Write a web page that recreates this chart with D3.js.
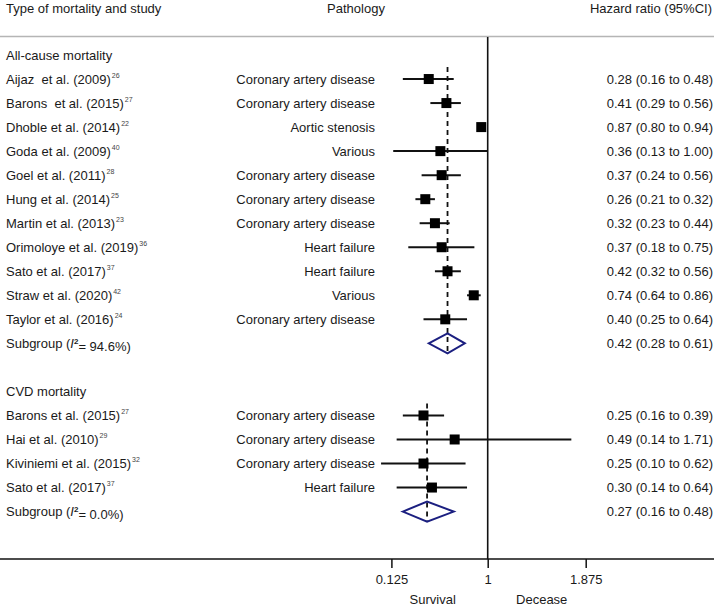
<!DOCTYPE html>
<html>
<head>
<meta charset="utf-8">
<script src="https://cdn.jsdelivr.net/npm/d3@7"></script>
<style>
  html, body { margin: 0; padding: 0; background: #fff; }
  svg { display: block; font-family: "Liberation Sans", Arial, Helvetica, sans-serif; }
  text { fill: #1a1a1a; font-size: 13px; }
</style>
</head>
<body>
<svg id="chart" width="714" height="607"></svg>
<script>
// ---------------- data ----------------
const columnHeaders = ["Type of mortality and study", "Pathology", "Hazard ratio (95%CI)"];
const groupTitles = ["All-cause mortality", "CVD mortality"];

const allStudies = ["Aijaz  et al. (2009)", "Barons  et al. (2015)", "Dhoble et al. (2014)", "Goda et al. (2009)",
  "Goel et al. (2011)", "Hung et al. (2014)", "Martin et al. (2013)", "Orimoloye et al. (2019)",
  "Sato et al. (2017)", "Straw et al. (2020)", "Taylor et al. (2016)"];
const allRefs = ["26", "27", "22", "40", "28", "25", "23", "36", "37", "42", "24"];
const allPathology = ["Coronary artery disease", "Coronary artery disease", "Aortic stenosis", "Various",
  "Coronary artery disease", "Coronary artery disease", "Coronary artery disease", "Heart failure",
  "Heart failure", "Various", "Coronary artery disease"];
const allHR = [0.28, 0.41, 0.87, 0.36, 0.37, 0.26, 0.32, 0.37, 0.42, 0.74, 0.40];
const allLower = [0.16, 0.29, 0.80, 0.13, 0.24, 0.21, 0.23, 0.18, 0.32, 0.64, 0.25];
const allUpper = [0.48, 0.56, 0.94, 1.00, 0.56, 0.32, 0.44, 0.75, 0.56, 0.86, 0.64];

const cvdStudies = ["Barons et al. (2015)", "Hai et al. (2010)", "Kiviniemi et al. (2015)", "Sato et al. (2017)"];
const cvdRefs = ["27", "29", "32", "37"];
const cvdPathology = ["Coronary artery disease", "Coronary artery disease", "Coronary artery disease", "Heart failure"];
const cvdHR = [0.25, 0.49, 0.25, 0.30];
const cvdLower = [0.16, 0.14, 0.10, 0.14];
const cvdUpper = [0.39, 1.71, 0.62, 0.64];

const subgroupI2 = ["94.6%", "0.0%"];
const subgroupHR = [0.42, 0.27];
const subgroupLower = [0.28, 0.16];
const subgroupUpper = [0.61, 0.48];

const tickValues = [0.125, 1, 1.875];
const tickLabels = ["0.125", "1", "1.875"];
const directionLabels = ["Survival", "Decease"];

// ---------------- layout ----------------
const W = 714, H = 607;
const svg = d3.select("#chart");
svg.append("rect").attr("width", W).attr("height", H).attr("fill", "#fff");

const x = d3.scaleLog().domain([0.125, 1, 1.875]).range([391.4, 487.7, 585.7]);
const y = d3.scaleLinear().domain([0, 20]).range([55, 535.6]);
const axisY = 559;
const fmt = d3.format(".2f");

// build rows
const groups = [
  { title: groupTitles[0], names: allStudies, refs: allRefs, path: allPathology, hr: allHR, lo: allLower, hi: allUpper, g: 0 },
  { title: groupTitles[1], names: cvdStudies, refs: cvdRefs, path: cvdPathology, hr: cvdHR, lo: cvdLower, hi: cvdUpper, g: 1 }
];
const rows = [];
let r = 0;
groups.forEach(gr => {
  rows.push({ type: "title", text: gr.title, row: r++ });
  const first = r;
  gr.names.forEach((n, i) => rows.push({ type: "study", name: n, ref: gr.refs[i], path: gr.path[i], hr: gr.hr[i], lo: gr.lo[i], hi: gr.hi[i], row: r++ }));
  rows.push({ type: "sub", i2: subgroupI2[gr.g], hr: subgroupHR[gr.g], lo: subgroupLower[gr.g], hi: subgroupUpper[gr.g], row: r++, firstRow: first });
  r += 1; // blank row
});

// headers
const headerY = 8;
svg.append("text").attr("x", 6).attr("y", headerY).attr("dy", "0.35em").text(columnHeaders[0]);
svg.append("text").attr("x", 356).attr("y", headerY).attr("dy", "0.35em").attr("text-anchor", "middle").text(columnHeaders[1]);
svg.append("text").attr("x", 712).attr("y", headerY).attr("dy", "0.35em").attr("text-anchor", "end").text(columnHeaders[2]);

// rule below header
svg.append("line").attr("x1", 0).attr("x2", W).attr("y1", 36.5).attr("y2", 36.5)
  .attr("stroke", "#b5b5b5").attr("stroke-width", 1.5);

// dashed overall lines
rows.filter(d => d.type === "sub").forEach(d => {
  svg.append("line")
    .attr("x1", x(d.hr)).attr("x2", x(d.hr))
    .attr("y1", y(d.firstRow) - 12).attr("y2", y(d.row) + 10)
    .attr("stroke", "#111").attr("stroke-width", 1.8).attr("stroke-dasharray", "5,4");
});

// null line
svg.append("line").attr("x1", x(1)).attr("x2", x(1)).attr("y1", 37).attr("y2", axisY)
  .attr("stroke", "#111").attr("stroke-width", 1.6);

// text rows
rows.forEach(d => {
  const yy = y(d.row);
  if (d.type === "title") {
    svg.append("text").attr("x", 6).attr("y", yy).attr("dy", "0.35em").text(d.text);
  } else if (d.type === "study") {
    const t = svg.append("text").attr("x", 6).attr("y", yy).attr("dy", "0.35em").attr("xml:space", "preserve");
    t.append("tspan").text(d.name);
    t.append("tspan").attr("dx", 1).attr("dy", "-0.85em").style("font-size", "7px").style("fill", "#444").text(d.ref);
    svg.append("text").attr("x", 375).attr("y", yy).attr("dy", "0.35em").attr("text-anchor", "end").text(d.path);
    svg.append("text").attr("x", 713).attr("y", yy).attr("dy", "0.35em").attr("text-anchor", "end")
      .text(`${fmt(d.hr)} (${fmt(d.lo)} to ${fmt(d.hi)})`);
  } else {
    const t = svg.append("text").attr("x", 6).attr("y", yy).attr("dy", "0.35em");
    t.append("tspan").text("Subgroup (");
    t.append("tspan").style("font-style", "italic").text("I");
    t.append("tspan").attr("dy", "-0.55em").style("font-size", "8px").style("font-weight", "bold").text("2");
    t.append("tspan").attr("dy", "0.55em").text(`= ${d.i2})`);
    svg.append("text").attr("x", 713).attr("y", yy).attr("dy", "0.35em").attr("text-anchor", "end")
      .text(`${fmt(d.hr)} (${fmt(d.lo)} to ${fmt(d.hi)})`);
  }
});

// CIs and squares
const studiesRows = rows.filter(d => d.type === "study");
svg.append("g").selectAll("line").data(studiesRows).join("line")
  .attr("x1", d => x(d.lo)).attr("x2", d => x(d.hi))
  .attr("y1", d => y(d.row)).attr("y2", d => y(d.row))
  .attr("stroke", "#111").attr("stroke-width", 2);
const sq = 10;
svg.append("g").selectAll("rect").data(studiesRows).join("rect")
  .attr("x", d => x(d.hr) - sq / 2).attr("y", d => y(d.row) - sq / 2)
  .attr("width", sq).attr("height", sq).attr("fill", "#000");

// diamonds
svg.append("g").selectAll("path").data(rows.filter(d => d.type === "sub")).join("path")
  .attr("d", d => {
    const yy = y(d.row), h = 10;
    return `M${x(d.lo)},${yy} L${x(d.hr)},${yy - h} L${x(d.hi)},${yy} L${x(d.hr)},${yy + h} Z`;
  })
  .attr("fill", "none").attr("stroke", "#1b1f80").attr("stroke-width", 2);

// axis
svg.append("line").attr("x1", 0).attr("x2", W).attr("y1", axisY).attr("y2", axisY)
  .attr("stroke", "#111").attr("stroke-width", 1.5);
const axis = d3.axisBottom(x).tickValues(tickValues).tickFormat((v, i) => tickLabels[i]).tickSize(9).tickPadding(7);
const ag = svg.append("g").attr("transform", `translate(0,${axisY})`).call(axis);
ag.select(".domain").remove();
ag.selectAll(".tick line").attr("stroke", "#111").attr("stroke-width", 1.5);
ag.selectAll(".tick text").style("font-size", "13px").style("font-family", "'Liberation Sans', Arial, sans-serif").attr("fill", "#1a1a1a");

svg.append("text").attr("x", x(1) - 55).attr("y", 599).attr("dy", "0.35em").attr("text-anchor", "middle").text(directionLabels[0]);
svg.append("text").attr("x", x(1) + 54).attr("y", 599).attr("dy", "0.35em").attr("text-anchor", "middle").text(directionLabels[1]);
</script>
</body>
</html>
